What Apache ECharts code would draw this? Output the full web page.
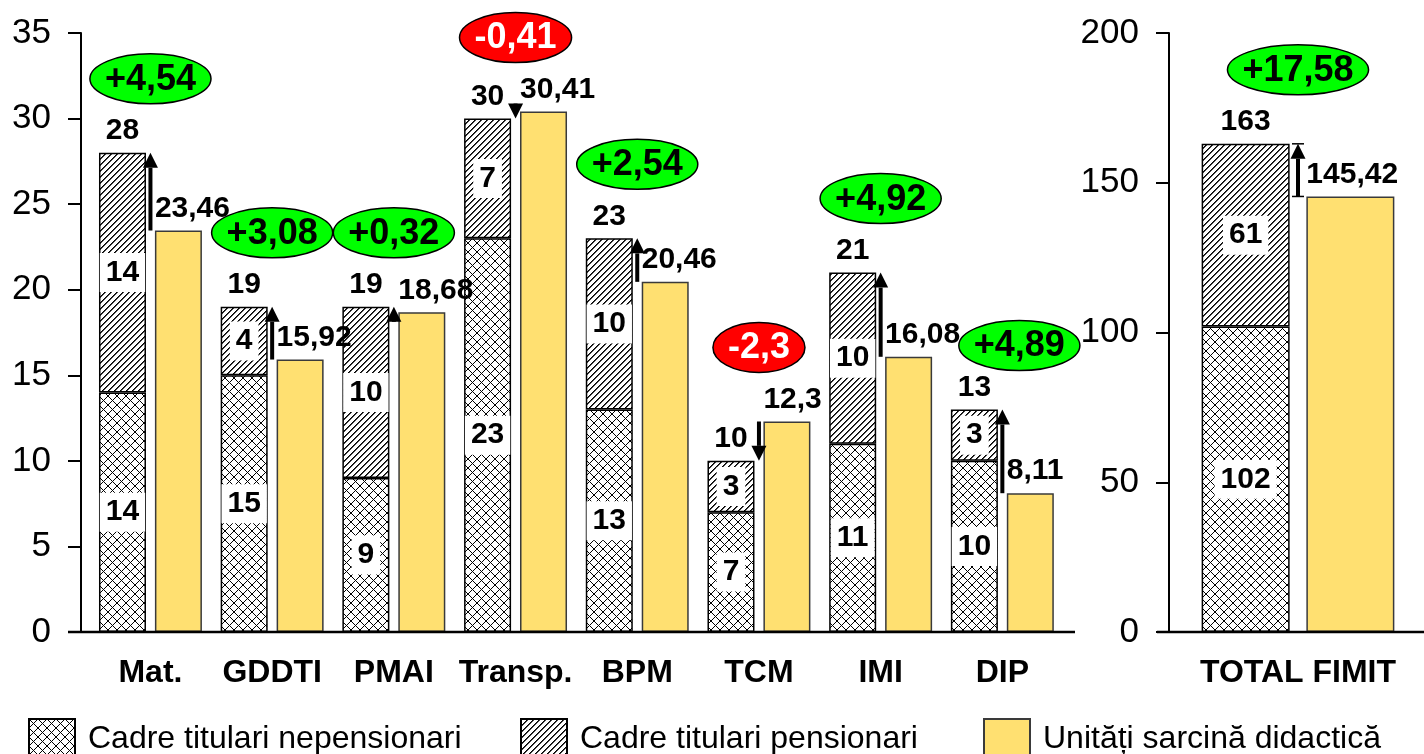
<!DOCTYPE html>
<html>
<head>
<meta charset="utf-8">
<script src="https://cdn.jsdelivr.net/npm/echarts@6/dist/echarts.min.js"></script>
<style>
  html, body { margin: 0; padding: 0; background: #fff; }
  #chart { width: 1424px; height: 754px; }
</style>
</head>
<body>
<div id="chart"></div>
<script>
// ---------- date ----------
const departamente = ["Mat.", "GDDTI", "PMAI", "Transp.", "BPM", "TCM", "IMI", "DIP"];
const nepensionari = [14, 15, 9, 23, 13, 7, 11, 10];
const pensionari = [14, 4, 10, 7, 10, 3, 10, 3];
const totalCadre = [28, 19, 19, 30, 23, 10, 21, 13];
const unitati = [23.46, 15.92, 18.68, 30.41, 20.46, 12.3, 16.08, 8.11];
const diferente = [4.54, 3.08, 0.32, -0.41, 2.54, -2.3, 4.92, 4.89];

const facultate = ["TOTAL FIMIT"];
const nepensionariFimit = [102];
const pensionariFimit = [61];
const totalCadreFimit = [163];
const unitatiFimit = [145.42];
const diferenteFimit = [17.58];

const ticksStanga = { min: 0, max: 35, interval: 5 };
const ticksDreapta = { min: 0, max: 200, interval: 50 };

const legenda = ["Cadre titulari nepensionari", "Cadre titulari pensionari", "Unități sarcină didactică"];

// ---------- stil ----------
const FONT = '"Liberation Sans", Arial, sans-serif';
const YELLOW = "#FFE071";
const comma = (v) => String(v).replace(".", ",");
// ovalul de la DIP e mutat puțin în dreapta/jos în original
const badgeNudge = { "0-7": [17, 10] };

// modele hașurate, pixel cu pixel ca în Excel
function tile(size, test) {
  const c = document.createElement("canvas");
  c.width = size; c.height = size;
  const g = c.getContext("2d");
  const img = g.createImageData(size, size);
  for (let y = 0; y < size; y++) for (let x = 0; x < size; x++) {
    const k = (y * size + x) * 4, v = test(x, y);
    img.data[k] = img.data[k + 1] = img.data[k + 2] = v; img.data[k + 3] = 255;
  }
  g.putImageData(img, 0, 0);
  return c;
}
const crossImg = tile(9, (x, y) => (x === y || x + y === 8) ? 0 : 255);
const hatchImg = tile(6, (x, y) => { const m = (x + y) % 6; return m === 0 ? 0 : (m === 1 ? 70 : 255); });
const crossFill = { image: crossImg, repeat: "repeat" };
const hatchFill = { image: hatchImg, repeat: "repeat" };

const measureCtx = document.createElement("canvas").getContext("2d");
function textWidth(t, font) { measureCtx.font = font; return measureCtx.measureText(t).width; }

const segLabel = {
  show: true, position: "inside", color: "#000", fontSize: 30, fontWeight: "bold", fontFamily: FONT,
  backgroundColor: "#fff", padding: [4, 6, 2, 6], lineHeight: 33
};

// ---------- săgeți și ovale ----------
function arrowItem(cap) {
  return (params, api) => {
    const a = api.coord([api.value(0), api.value(1)]);
    const b = api.coord([api.value(0), api.value(2)]);
    const x = a[0];
    const dir = b[1] < a[1] ? -1 : 1;
    const head = 15, half = 7.5;
    const baseY = b[1] - dir * head;
    const kids = [
      { type: "line", shape: { x1: x, y1: a[1], x2: x, y2: baseY }, style: { stroke: "#000", lineWidth: 4 } },
      { type: "polygon", shape: { points: [[x, b[1]], [x - half, baseY], [x + half, baseY]] }, style: { fill: "#000" } }
    ];
    if (cap) {
      kids.push({ type: "line", shape: { x1: x - cap / 2, y1: b[1], x2: x + cap / 2, y2: b[1] }, style: { stroke: "#000", lineWidth: 1.5 } });
      kids.push({ type: "line", shape: { x1: x - cap / 2, y1: a[1], x2: x + cap / 2, y2: a[1] }, style: { stroke: "#000", lineWidth: 1.5 } });
    }
    return { type: "group", children: kids };
  };
}

function badgeItem(ax) {
  return (params, api) => {
    const p = api.coord([api.value(0), api.value(1)]);
    const d = api.value(2);
    const txt = (d > 0 ? "+" : "") + comma(d);
    const font = "bold 36px " + FONT;
    const nudge = badgeNudge[ax + "-" + params.dataIndex] || [0, 0];
    const cx = p[0] + nudge[0], cy = p[1] - 74 + nudge[1];
    const pos = d >= 0;
    return {
      type: "group",
      children: [
        { type: "ellipse", shape: { cx, cy, rx: textWidth(txt, font) / 2 + 15, ry: 25 },
          style: { fill: pos ? "#00FF00" : "#FF0000", stroke: "#000", lineWidth: 1.5 } },
        { type: "text", x: cx, y: cy + 1,
          style: { text: txt, fill: pos ? "#000" : "#fff", font, align: "center", verticalAlign: "middle" } }
      ]
    };
  };
}

// ---------- serii pentru o grilă ----------
function seriesFor(ax, nep, pens, tot, unit, diff, barW) {
  const cats = nep.map((_, i) => i);
  const gap = "19%";
  return [
    { name: legenda[0], type: "bar", stack: "c" + ax, xAxisIndex: ax, yAxisIndex: ax, barWidth: barW, barGap: gap,
      data: nep, itemStyle: { color: crossFill, borderColor: "#000", borderWidth: 1.5 }, label: segLabel },
    { name: legenda[1], type: "bar", stack: "c" + ax, xAxisIndex: ax, yAxisIndex: ax, barWidth: barW, barGap: gap,
      data: pens, itemStyle: { color: hatchFill, borderColor: "#000", borderWidth: 1.5 }, label: segLabel },
    { name: "total" + ax, type: "bar", stack: "c" + ax, xAxisIndex: ax, yAxisIndex: ax, barWidth: barW, barGap: gap,
      data: cats.map(() => 0), itemStyle: { color: "transparent", borderWidth: 0 },
      label: { show: true, position: "top", distance: 7, formatter: (p) => String(tot[p.dataIndex]),
        color: "#000", fontSize: 30, fontWeight: "bold", fontFamily: FONT } },
    { name: legenda[2], type: "bar", xAxisIndex: ax, yAxisIndex: ax, barWidth: barW, barGap: gap,
      data: unit, itemStyle: { color: YELLOW, borderColor: "#3a3a3a", borderWidth: 1.5 },
      label: { show: true, position: [0, -7], align: "left", verticalAlign: "bottom", formatter: (p) => comma(p.value),
        color: "#000", fontSize: 30, fontWeight: "bold", fontFamily: FONT } },
    { type: "custom", xAxisIndex: ax, yAxisIndex: ax, z: 5, renderItem: arrowItem(ax === 1 ? 12 : 0),
      data: cats.map((i) => [i, unit[i], tot[i]]) },
    { type: "custom", xAxisIndex: ax, yAxisIndex: ax, z: 6, renderItem: badgeItem(ax),
      data: cats.map((i) => [i, Math.max(tot[i], unit[i]), diff[i]]) }
  ];
}

const yAxisBase = (t, offset) => ({
  type: "value", min: t.min, max: t.max, interval: t.interval, offset,
  axisLine: { show: true, lineStyle: { color: "#000", width: 2 } },
  axisTick: { show: true, length: 13, lineStyle: { color: "#000", width: 2 } },
  axisLabel: { margin: 30, color: "#000", fontSize: 35, fontFamily: FONT },
  splitLine: { show: false }
});
const xAxisBase = (cats, ax) => ({
  type: "category", data: cats, gridIndex: ax,
  axisLine: { show: false }, axisTick: { show: false },
  axisLabel: { margin: 25, color: "#000", fontSize: 32, fontWeight: "bold", fontFamily: FONT, interval: 0 }
});

const chart = echarts.init(document.getElementById("chart"));
chart.setOption({
  animation: false,
  backgroundColor: "#fff",
  grid: [
    { left: 89.6, width: 973.6, top: 33, height: 599 },
    { left: 1172, width: 254, top: 33, height: 599 }
  ],
  xAxis: [xAxisBase(departamente, 0), xAxisBase(facultate, 1)],
  yAxis: [Object.assign(yAxisBase(ticksStanga, 8.6), { gridIndex: 0 }), Object.assign(yAxisBase(ticksDreapta, 3), { gridIndex: 1 })],
  legend: legenda.map((name, k) => ({
    data: [name], left: [23, 515, 978][k], top: 713, itemWidth: 46, itemHeight: 40, icon: "rect",
    selectedMode: false, textStyle: { color: "#000", fontSize: 32, fontFamily: FONT, padding: [0, 0, 0, 8] }
  })),
  graphic: [
    { type: "line", shape: { x1: 68, y1: 632, x2: 1075, y2: 632 }, style: { stroke: "#000", lineWidth: 2.5 }, z: 10 },
    { type: "line", shape: { x1: 1157, y1: 632, x2: 1424, y2: 632 }, style: { stroke: "#000", lineWidth: 2.5 }, z: 10 }
  ],
  series: [
    ...seriesFor(0, nepensionari, pensionari, totalCadre, unitati, diferente, 47),
    ...seriesFor(1, nepensionariFimit, pensionariFimit, totalCadreFimit, unitatiFimit, diferenteFimit, 88)
  ]
});
</script>
</body>
</html>
